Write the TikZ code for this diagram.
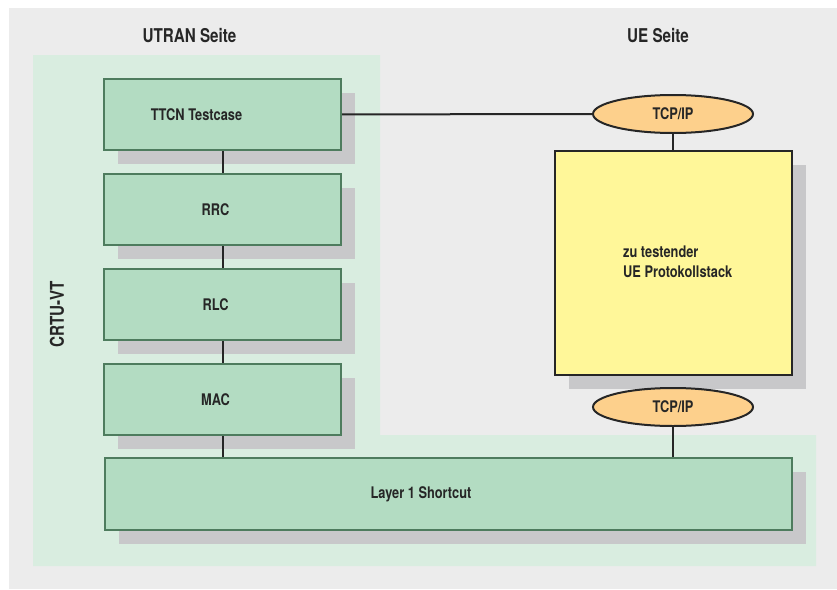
\documentclass[tikz,border=0pt]{standalone}
\usepackage{fontspec}
\setmainfont{TeX Gyre Heros}[FakeStretch=0.8]
\usetikzlibrary{positioning,shapes.geometric,shadows}

\definecolor{bggray}{HTML}{ECECEC}
\definecolor{areagreen}{HTML}{D9EDE0}
\definecolor{boxgreen}{HTML}{B3DCC2}
\definecolor{boxedge}{HTML}{4E7C5E}
\definecolor{shadowgray}{HTML}{C8C8CA}
\definecolor{stackyellow}{HTML}{FFF799}
\definecolor{tcporange}{HTML}{FDD08C}
\definecolor{txt}{HTML}{262626}

\tikzset{
  layer/.style={rectangle, draw=boxedge, fill=boxgreen, line width=2pt,
    minimum width=237pt, minimum height=71pt, inner sep=0pt,
    drop shadow={shadow xshift=14pt, shadow yshift=-14pt, fill=shadowgray, opacity=1}},
  lbl/.style={text=txt, font=\bfseries\fontsize{16}{20}\selectfont, inner sep=0pt},
  title/.style={text=txt, font=\bfseries\fontsize{19}{23}\selectfont, inner sep=0pt},
  tcp/.style={ellipse, draw=txt, fill=tcporange, line width=2pt,
    minimum width=160pt, minimum height=38pt, inner sep=0pt,
    text=txt, font=\bfseries\fontsize{16}{20}\selectfont},
  link/.style={draw=txt, line width=2pt}
}

\begin{document}
\begin{tikzpicture}[
                        x=1pt, y=-1pt,
                        node distance=22pt,
                        >=latex
                    ]
                    \useasboundingbox (0,0) rectangle (837,589);
                    % Background
                    \fill[bggray] (9,8) rectangle (837,589);
                    \fill[areagreen] (33,55) -- (380,55) -- (380,435) -- (816,435)
                        -- (816,566) -- (33,566) -- cycle;

                    % Titles
                    \node[title] (utran) at (189.5,36) {UTRAN Seite};
                    \node[title] (ueside) at (658,36) {UE Seite};
                    \node[title, rotate=90] (crtu) at (57,314.5) {CRTU-VT};

                    % Blocks
                    \node [layer] (ttcn) at (222.5,114.5) {};
                    \node [layer, below=of ttcn] (rrc) {};
                    \node [layer, below=of rrc] (rlc) {};
                    \node [layer, below=of rlc] (mac) {};
                    \node [layer, minimum width=687pt, minimum height=72pt] (shortcut) at (448,494) {};
                    \node [rectangle, draw=txt, fill=stackyellow, line width=2pt,
                        minimum width=237pt, minimum height=224pt,
                        drop shadow={shadow xshift=14pt, shadow yshift=-14pt, fill=shadowgray, opacity=1}]
                        (uestack) at (673,262.5) {};
                    \node [tcp] (tcptop) at (673,114) {TCP/IP};
                    \node [tcp] (tcpbot) at (673,407) {TCP/IP};

                    % Labels
                    \node [lbl] at ([xshift=-26pt]ttcn.center) {TTCN Testcase};
                    \node [lbl] at ([xshift=-7pt]rrc.center) {RRC};
                    \node [lbl] at ([xshift=-7pt]rlc.center) {RLC};
                    \node [lbl] at ([xshift=-7pt]mac.center) {MAC};
                    \node [lbl] at ([xshift=-27pt]shortcut.center) {Layer 1 Shortcut};
                    \node [lbl, align=left, anchor=west] at (623,262) {zu testender\\UE Protokollstack};

                    % Connections
                    \draw [link] (ttcn) -- (tcptop);
                    \draw [link] (tcptop) -- (uestack);
                    \draw [link] (ttcn) -- (rrc);
                    \draw [link] (rrc) -- (rlc);
                    \draw [link] (rlc) -- (mac);
                    \draw [link] (mac.south) -- (mac.south |- shortcut.north);
                    \draw [link] (tcpbot.south) -- (tcpbot.south |- shortcut.north);
                \end{tikzpicture}
\end{document}
